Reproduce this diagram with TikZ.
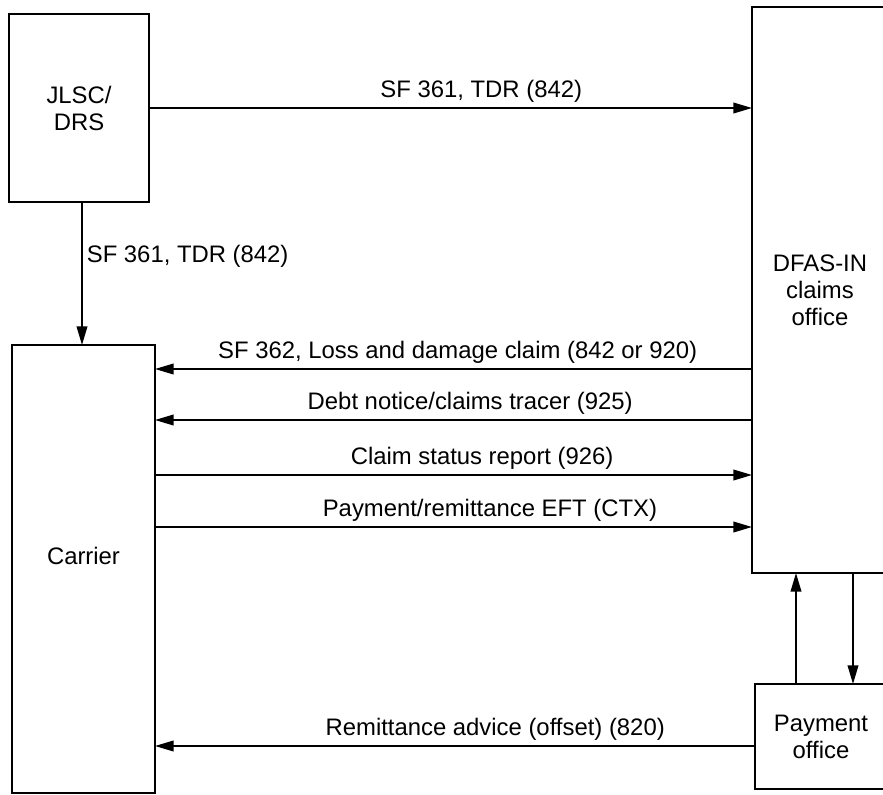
\documentclass[tikz,border=0pt]{standalone}
\usepackage{fontspec}
\setmainfont{Liberation Sans}
\usetikzlibrary{arrows.meta}
\begin{document}
\begin{tikzpicture}[x=0.75pt,y=-0.75pt,line join=miter,
	font=\fontsize{17.9}{20.3}\selectfont,
	box/.style={draw,line width=1.3pt,inner sep=0pt,outer sep=0pt,align=center},
	flow/.style={-{Triangle[length=14pt,width=8pt]},line width=1.3pt},
	lbl/.style={anchor=base,yshift=8.25pt,inner sep=0pt}]
	\useasboundingbox (0,0) rectangle (883,794);
	\clip (0,0) rectangle (883,794);
	%%% boxes
	\node[box,minimum width=105pt,minimum height=141pt] (jlsc) at (79,108) {JLSC/\\DRS};
	\node[box,minimum width=107.25pt,minimum height=336pt,
		label={[yshift=9.75pt]center:Carrier}] (carrier) at (83.5,569) {};
	\node[box,minimum width=102pt,minimum height=424.5pt] (dfas) at (820,290) {DFAS-IN\\claims\\office};
	\node[box,minimum width=99pt,minimum height=78.75pt] (pay) at (821,736.5) {Payment\\office};
	%%% flows
	\draw[flow] (jlsc.east) -- (dfas.west |- jlsc.east)
		node[lbl,pos=0.551] (l1) {SF 361, TDR (842)};
	\draw[flow] (jlsc.south -| 82,0) -- (carrier.north -| 82,0)
		node[pos=0.38,anchor=west,inner sep=0pt,xshift=3pt] (l2) {SF 361, TDR (842)};
	\draw[flow] (dfas.west |- 0,369) -- (carrier.east |- 0,369)
		node[lbl,pos=0.493] (l3) {SF 362, Loss and damage claim (842 or 920)};
	\draw[flow] (dfas.west |- 0,420) -- (carrier.east |- 0,420)
		node[lbl,pos=0.472] (l4) {Debt notice/claims tracer (925)};
	\draw[flow] (carrier.east |- 0,475) -- (dfas.west |- 0,475)
		node[lbl,pos=0.548] (l5) {Claim status report (926)};
	\draw[flow] (carrier.east |- 0,527) -- (dfas.west |- 0,527)
		node[lbl,pos=0.561] (l6) {Payment/remittance EFT (CTX)};
	\draw[flow] (pay.west |- 0,746) -- (carrier.east |- 0,746)
		node[lbl,pos=0.433] (l7) {Remittance advice (offset) (820)};
	\draw[flow] (pay.north -| 796,0) -- (dfas.south -| 796,0);
	\draw[flow] (dfas.south -| 853,0) -- (pay.north -| 853,0);
\end{tikzpicture}
\end{document}
